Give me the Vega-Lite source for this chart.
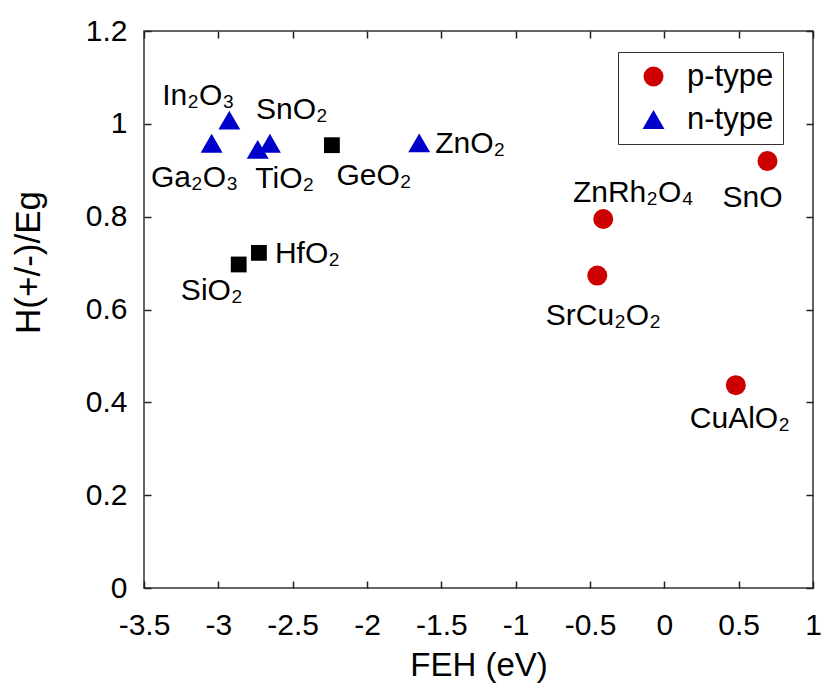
{
  "$schema": "https://vega.github.io/schema/vega-lite/v6.json",
  "width": 669,
  "height": 557,
  "autosize": {"type": "none"},
  "padding": {"left": 144, "top": 31, "right": 11, "bottom": 103},
  "background": "white",
  "config": {
    "font": "Liberation Sans",
    "view": {"stroke": "#333", "strokeWidth": 1.5},
    "axis": {
      "domain": false, "ticks": false, "grid": true, "gridColor": "#222", "gridWidth": 1.5, "gridOpacity": 1,
      "labelFont": "Liberation Sans", "labelFontSize": 30, "labelColor": "#000",
      "titleFont": "Liberation Sans", "titleFontSize": 33, "titleColor": "#000", "titleFontWeight": "normal",
      "labelFlush": false, "labelOverlap": false
    },
    "text": {"font": "Liberation Sans", "fontSize": 30, "color": "#000"}
  },
  "data": {
    "values": [
      {"label": "In₂O₃", "type": "n-type", "x": -2.926, "y": 1.008},
      {"label": "Ga₂O₃", "type": "n-type", "x": -3.045, "y": 0.958},
      {"label": "TiO₂", "type": "n-type", "x": -2.735, "y": 0.945},
      {"label": "SnO₂", "type": "n-type", "x": -2.653, "y": 0.958},
      {"label": "ZnO₂", "type": "n-type", "x": -1.649, "y": 0.959},
      {"label": "GeO₂", "type": "other", "x": -2.236, "y": 0.954},
      {"label": "HfO₂", "type": "other", "x": -2.727, "y": 0.722},
      {"label": "SiO₂", "type": "other", "x": -2.863, "y": 0.697},
      {"label": "SnO", "type": "p-type", "x": 0.694, "y": 0.920},
      {"label": "ZnRh₂O₄", "type": "p-type", "x": -0.411, "y": 0.795},
      {"label": "SrCu₂O₂", "type": "p-type", "x": -0.451, "y": 0.673},
      {"label": "CuAlO₂", "type": "p-type", "x": 0.481, "y": 0.437}
    ]
  },
  "layer": [
    {
      "mark": {"type": "point", "filled": true, "opacity": 1},
      "encoding": {
        "x": {"field": "x", "type": "quantitative", "scale": {"domain": [-3.5, 1], "nice": false, "zero": false},
              "axis": {"orient": "bottom", "values": [-3.5, -3, -2.5, -2, -1.5, -1, -0.5, 0, 0.5, 1], "labelExpr": "'' + datum.value",
                       "gridDash": [7, 543], "labelPadding": 22, "title": "FEH (eV)", "titleY": 77, "titleBaseline": "middle"}},
        "y": {"field": "y", "type": "quantitative", "scale": {"domain": [0, 1.2], "nice": false},
              "axis": {"orient": "left", "values": [0, 0.2, 0.4, 0.6, 0.8, 1, 1.2], "labelExpr": "'' + datum.value",
                       "gridDash": [7, 655], "labelPadding": 17, "title": "H(+/-)/Eg", "titleFontSize": 35, "titleX": -116, "titleY": 231, "titleAngle": -90, "titleAlign": "center", "titleBaseline": "middle"}},
        "color": {"field": "type", "type": "nominal",
                  "scale": {"domain": ["p-type", "n-type", "other"], "range": ["#cc0000", "#0000cc", "#000000"]},
                  "legend": {"values": ["p-type", "n-type"], "title": null, "orient": "none", "legendX": 474, "legendY": 21,
                             "strokeColor": "#333", "fillColor": "white", "padding": 9, "labelFontSize": 31, "labelColor": "#000",
                             "labelExpr": "datum.label + '      '",
                             "symbolSize": 230, "rowPadding": 11, "symbolStrokeWidth": 0, "symbolOffset": 11, "labelOffset": 18}},
        "shape": {"field": "type", "type": "nominal",
                  "scale": {"domain": ["p-type", "n-type", "other"], "range": ["circle", "triangle-up", "square"]},
                  "legend": {"values": ["p-type", "n-type"], "title": null, "orient": "none", "legendX": 474, "legendY": 21,
                             "strokeColor": "#333", "fillColor": "white", "padding": 9, "labelFontSize": 31, "labelColor": "#000",
                             "labelExpr": "datum.label + '      '",
                             "symbolSize": 230, "rowPadding": 11, "symbolStrokeWidth": 0, "symbolOffset": 11, "labelOffset": 18}},
        "size": {"field": "type", "type": "nominal",
                 "scale": {"type": "ordinal", "domain": ["p-type", "n-type", "other"], "range": [400, 480, 250]}, "legend": null}
      }
    },
    {"transform": [{"filter": "datum.label === 'In₂O₃'"}], "mark": {"type": "text", "dx": -31, "dy": -24},
     "encoding": {"x": {"field": "x", "type": "quantitative"}, "y": {"field": "y", "type": "quantitative"}, "text": {"field": "label"}}},
    {"transform": [{"filter": "datum.label === 'SnO₂'"}], "mark": {"type": "text", "dx": 22, "dy": -33},
     "encoding": {"x": {"field": "x", "type": "quantitative"}, "y": {"field": "y", "type": "quantitative"}, "text": {"field": "label"}}},
    {"transform": [{"filter": "datum.label === 'Ga₂O₃'"}], "mark": {"type": "text", "dx": -17, "dy": 35},
     "encoding": {"x": {"field": "x", "type": "quantitative"}, "y": {"field": "y", "type": "quantitative"}, "text": {"field": "label"}}},
    {"transform": [{"filter": "datum.label === 'TiO₂'"}], "mark": {"type": "text", "dx": 27, "dy": 30},
     "encoding": {"x": {"field": "x", "type": "quantitative"}, "y": {"field": "y", "type": "quantitative"}, "text": {"field": "label"}}},
    {"transform": [{"filter": "datum.label === 'GeO₂'"}], "mark": {"type": "text", "dx": 42, "dy": 31},
     "encoding": {"x": {"field": "x", "type": "quantitative"}, "y": {"field": "y", "type": "quantitative"}, "text": {"field": "label"}}},
    {"transform": [{"filter": "datum.label === 'ZnO₂' || datum.label === 'HfO₂'"}], "mark": {"type": "text", "dx": 16, "dy": 1, "align": "left"},
     "encoding": {"x": {"field": "x", "type": "quantitative"}, "y": {"field": "y", "type": "quantitative"}, "text": {"field": "label"}}},
    {"transform": [{"filter": "datum.label === 'SiO₂'"}], "mark": {"type": "text", "dx": -27, "dy": 27},
     "encoding": {"x": {"field": "x", "type": "quantitative"}, "y": {"field": "y", "type": "quantitative"}, "text": {"field": "label"}}},
    {"transform": [{"filter": "datum.label === 'SnO'"}], "mark": {"type": "text", "dx": -15, "dy": 37},
     "encoding": {"x": {"field": "x", "type": "quantitative"}, "y": {"field": "y", "type": "quantitative"}, "text": {"field": "label"}}},
    {"transform": [{"filter": "datum.label === 'ZnRh₂O₄'"}], "mark": {"type": "text", "dx": 30, "dy": -26},
     "encoding": {"x": {"field": "x", "type": "quantitative"}, "y": {"field": "y", "type": "quantitative"}, "text": {"field": "label"}}},
    {"transform": [{"filter": "datum.label === 'SrCu₂O₂'"}], "mark": {"type": "text", "dx": 6, "dy": 40},
     "encoding": {"x": {"field": "x", "type": "quantitative"}, "y": {"field": "y", "type": "quantitative"}, "text": {"field": "label"}}},
    {"transform": [{"filter": "datum.label === 'CuAlO₂'"}], "mark": {"type": "text", "dx": 4, "dy": 34},
     "encoding": {"x": {"field": "x", "type": "quantitative"}, "y": {"field": "y", "type": "quantitative"}, "text": {"field": "label"}}}
  ]
}
